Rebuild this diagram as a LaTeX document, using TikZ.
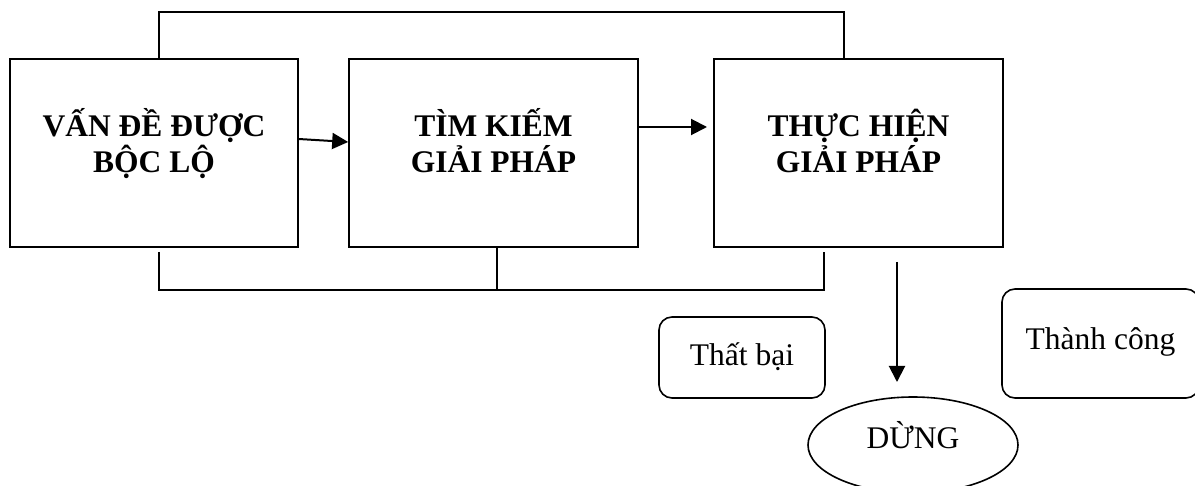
\documentclass[tikz,border=0pt]{standalone}
\usepackage{fontspec}
\setmainfont{Liberation Serif}
\usetikzlibrary{arrows.meta,shapes.geometric}
\begin{document}
\begin{tikzpicture}[x=1pt,y=-1pt,
  box/.style={draw, line width=1.6pt, inner sep=0pt, align=center,
    font=\fontsize{31.5}{36}\selectfont\bfseries, text height=65pt, text depth=25pt,
    minimum height=188pt},
  rbox/.style={draw, line width=1.6pt, rounded corners=13pt, inner sep=0pt,
    font=\fontsize{31.5}{36}\selectfont},
  conn/.style={line width=1.6pt},
  arr/.style={line width=2pt, -{Triangle[length=16pt,width=16pt]}}]
\useasboundingbox (0,0) rectangle (1195,486);
% main boxes
\node[box, minimum width=288pt] (b1) at (154,153) {VẤN ĐỀ ĐƯỢC\\BỘC LỘ};
\node[box, minimum width=289pt] (b2) at (493.5,153) {TÌM KIẾM\\GIẢI PHÁP};
\node[box, minimum width=289pt] (b3) at (858.5,153) {THỰC HIỆN\\GIẢI PHÁP};
% outcome boxes
\node[rbox, minimum width=166pt, minimum height=81pt, text height=22pt, text depth=5pt] (fail) at (742,357.5) {Thất bại};
\node[rbox, minimum width=197pt, minimum height=109pt, text height=20pt, text depth=7pt] (succ) at (1100.5,343.5) {Thành công};
\node[draw, ellipse, line width=1.6pt, inner sep=0pt, minimum width=210pt, minimum height=96pt,
  text height=21pt, text depth=15pt, font=\fontsize{31.5}{36}\selectfont] (stop) at (913,445) {DỪNG};
% arrows between boxes
\draw[arr] ([yshift=14pt]b1.east) -- ([yshift=11pt]b2.west);
\coordinate (a2) at (707,127);
\draw[arr] (b2.east |- a2) -- (a2);
% top loop
\coordinate (t1) at (159,12);
\coordinate (t2) at (844,12);
\draw[conn] (b1.north -| t1) -- (t1) -- (t2) -- (b3.north -| t2);
% bottom loop
\coordinate (u1) at (159,252);
\coordinate (u2) at (159,290);
\coordinate (u3) at (824,290);
\coordinate (u4) at (824,252);
\draw[conn] (u1) -- (u2) -- (u3) -- (u4);
\coordinate (m1) at (497,0);
\draw[conn] (m1 |- b2.south) -- (m1 |- u2);
% down arrow
\coordinate (d1) at (897,262);
\coordinate (d2) at (897,382);
\draw[arr] (d1) -- (d2);
\end{tikzpicture}
\end{document}
